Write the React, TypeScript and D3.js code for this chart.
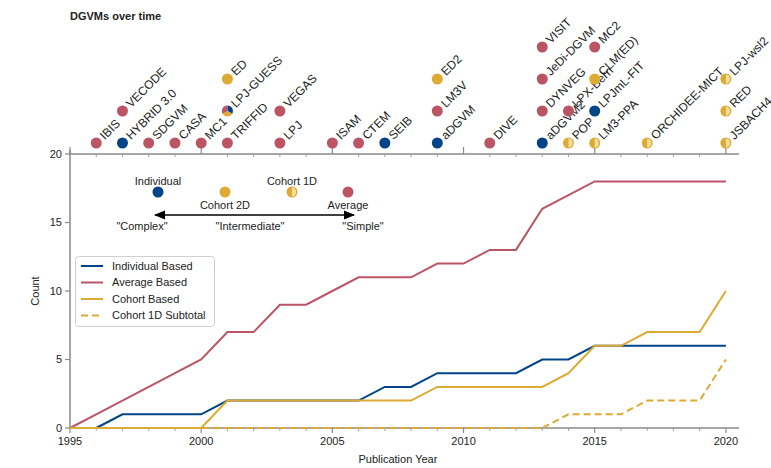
import React from "react";
import * as d3 from "d3";

const years = [1995,1996,1997,1998,1999,2000,2001,2002,2003,2004,2005,2006,2007,2008,2009,2010,2011,2012,2013,2014,2015,2016,2017,2018,2019,2020];
const individualCounts = [NaN,0,1,1,1,1,2,2,2,2,2,2,3,3,4,4,4,4,5,5,6,6,6,6,6,6];
const averageCounts = [0,1,2,3,4,5,7,7,9,9,10,11,11,11,12,12,13,13,16,17,18,18,18,18,18,18];
const cohortCounts = [0,0,0,0,0,0,2,2,2,2,2,2,2,2,3,3,3,3,3,4,6,6,7,7,7,10];
const cohort1DCounts = [0,0,0,0,0,0,0,0,0,0,0,0,0,0,0,0,0,0,0,1,1,1,2,2,2,5];

const yTicks = [0, 5, 10, 15, 20];
const xMajorTicks = [1995, 2000, 2005, 2010, 2015, 2020];

// timeline models: name, year, type (stack order within a year follows array order)
const modelNames = ["IBIS","HYBRID 3.0","VECODE","SDGVM","CASA","MC1","TRIFFID","LPJ-GUESS","ED","LPJ","VEGAS","ISAM","CTEM","SEIB","aDGVM","LM3V","ED2","DIVE","aDGVM2","DYNVEG","JeDi-DGVM","VISIT","POP","LPX-Bern","LM3-PPA","LPJmL-FIT","CLM(ED)","MC2","ORCHIDEE-MICT","JSBACH4","RED","LPJ-wsl2"];
const modelYears = [1996,1997,1997,1998,1999,2000,2001,2001,2001,2003,2003,2005,2006,2007,2009,2009,2009,2011,2013,2013,2013,2013,2014,2014,2015,2015,2015,2015,2017,2020,2020,2020];
const modelTypes = ["avg","ind","avg","avg","avg","avg","avg","mix","c2d","avg","avg","avg","avg","ind","ind","avg","c2d","avg","ind","avg","avg","avg","c1d","avg","c1d","ind","c2d","avg","c1d","c1d","c1d","c1d"];

const seriesNames = ["Individual Based", "Average Based", "Cohort Based", "Cohort 1D Subtotal"];
const classLabels = ["Individual", "Cohort 2D", "Cohort 1D", "Average"];
const classTypes = ["ind", "c2d", "c1d", "avg"];
const scaleLabels = ['"Complex"', '"Intermediate"', '"Simple"'];

const BLUE = "#004488";
const RED = "#BB5566";
const YELLOW = "#DDAA33";
const YELLOW_LIGHT = "#F4DE9C";
const SPINE = "#8a8a8a";
const TEXT = "#222";
const FONT = "'Liberation Sans', Arial, sans-serif";

const W = 771, H = 468;
const left = 70, bottom = 428;
const x = d3.scaleLinear().domain([1995, 2020.5]).range([left, 739]);
const y = d3.scaleLinear().domain([0, 20]).range([bottom, 154]);
const axisTop = y(20);
const R = 5.5;
const rowGap = 32;

function Marker({ type, cx, cy }: { type: string; cx: number; cy: number }) {
  if (type === "ind") return <circle cx={cx} cy={cy} r={R} fill={BLUE} />;
  if (type === "avg") return <circle cx={cx} cy={cy} r={R} fill={RED} />;
  if (type === "c2d") return <circle cx={cx} cy={cy} r={R} fill={YELLOW} />;
  if (type === "c1d") {
    const half = d3.arc()({ innerRadius: 0, outerRadius: R - 0.3, startAngle: 0, endAngle: Math.PI } as any) as string;
    return (
      <g transform={`translate(${cx},${cy})`}>
        <circle r={R} fill={YELLOW} />
        <path d={half} fill={YELLOW_LIGHT} transform="scale(0.8,0.85)" />
      </g>
    );
  }
  const a = d3.arc();
  const parts = [
    { c: BLUE, s: 0, e: (2 * Math.PI) / 3 },
    { c: YELLOW, s: (2 * Math.PI) / 3, e: (4 * Math.PI) / 3 },
    { c: RED, s: (4 * Math.PI) / 3, e: 2 * Math.PI },
  ];
  return (
    <g transform={`translate(${cx},${cy})`}>
      {parts.map((p, i) => (
        <path key={i} d={a({ innerRadius: 0, outerRadius: R, startAngle: p.s, endAngle: p.e } as any) as string} fill={p.c} />
      ))}
    </g>
  );
}

export default function App() {
  const line = d3
    .line<number>()
    .defined((v) => !isNaN(v))
    .x((_, i) => x(years[i]))
    .y((v) => y(v));

  const seen: Record<number, number> = {};
  const stacks = modelYears.map((yr) => {
    const k = seen[yr] || 0;
    seen[yr] = k + 1;
    return k;
  });

  const series = [
    { vals: individualCounts, color: BLUE, dash: "" },
    { vals: averageCounts, color: RED, dash: "" },
    { vals: cohortCounts, color: YELLOW, dash: "" },
    { vals: cohort1DCounts, color: YELLOW, dash: "7,4" },
  ];

  const insetX = [158, 225, 292, 348];
  const insetDotY = 192;
  const arrowY = 215;
  const scaleX = [142, 250, 363];

  return (
    <svg width={W} height={H} style={{ position: "absolute", left: 0, top: 0, fontFamily: FONT }}>
      <rect width={W} height={H} fill="#fff" />
      <text x={70} y={20} fontSize={11} fontWeight="bold" fill={TEXT}>DGVMs over time</text>

      {/* timeline axis */}
      <line x1={left} x2={739} y1={axisTop} y2={axisTop} stroke={SPINE} strokeWidth={1.5} />
      {years.map((yr) =>
        xMajorTicks.includes(yr) ? (
          <line key={yr} x1={x(yr)} x2={x(yr)} y1={axisTop} y2={axisTop - 7} stroke={SPINE} strokeWidth={1.2} />
        ) : (
          <line key={yr} x1={x(yr)} x2={x(yr)} y1={axisTop} y2={axisTop + 3} stroke={SPINE} strokeWidth={0.8} />
        )
      )}
      {modelNames.map((name, i) => {
        const cx = x(modelYears[i]);
        const cy = axisTop - 11 - stacks[i] * rowGap;
        return (
          <g key={name}>
            <Marker type={modelTypes[i]} cx={cx} cy={cy} />
            <text transform={`translate(${cx},${cy}) rotate(-45)`} x={8} dy="0.35em" fontSize={12} fill={TEXT}>{name}</text>
          </g>
        );
      })}

      {/* main axes */}
      <line x1={left} x2={left} y1={bottom} y2={150} stroke={SPINE} strokeWidth={1.5} />
      <line x1={left} x2={739} y1={bottom} y2={bottom} stroke={SPINE} strokeWidth={1.5} />
      {yTicks.map((t) => (
        <g key={t}>
          <line x1={left - 5} x2={left} y1={y(t)} y2={y(t)} stroke={SPINE} strokeWidth={1.2} />
          <text x={left - 8} y={y(t)} dy="0.35em" textAnchor="end" fontSize={11} fill={TEXT}>{t}</text>
        </g>
      ))}
      {years.map((yr) => (
        <line key={yr} x1={x(yr)} x2={x(yr)} y1={bottom} y2={bottom + (xMajorTicks.includes(yr) ? 5 : 3)} stroke={SPINE} strokeWidth={xMajorTicks.includes(yr) ? 1.2 : 0.8} />
      ))}
      {xMajorTicks.map((t) => (
        <text key={t} x={x(t)} y={bottom + 17} textAnchor="middle" fontSize={11} fill={TEXT}>{t}</text>
      ))}
      <text x={(x(1995) + x(2020)) / 2} y={463} textAnchor="middle" fontSize={11} fill={TEXT}>Publication Year</text>
      <text transform={`translate(39,${(y(0) + y(20)) / 2}) rotate(-90)`} textAnchor="middle" fontSize={11} fill={TEXT}>Count</text>

      {/* series */}
      {series.map((s, i) => (
        <path key={i} d={line(s.vals) as string} fill="none" stroke={s.color} strokeWidth={2} strokeDasharray={s.dash || undefined} />
      ))}

      {/* inset classification */}
      {classTypes.map((t, i) => (
        <g key={t}>
          <Marker type={t} cx={insetX[i]} cy={insetDotY} />
          <text x={insetX[i]} y={i % 2 === 0 ? insetDotY - 7 : insetDotY + 17} textAnchor="middle" fontSize={11} fill={TEXT}>{classLabels[i]}</text>
        </g>
      ))}
      <defs>
        <marker id="ah" viewBox="0 0 10 10" refX="9" refY="5" markerWidth="7" markerHeight="7" orient="auto-start-reverse">
          <path d="M0,1 L10,5 L0,9 z" fill="#000" />
        </marker>
      </defs>
      <line x1={155} x2={354} y1={arrowY} y2={arrowY} stroke="#000" strokeWidth={1.6} markerStart="url(#ah)" markerEnd="url(#ah)" />
      {scaleLabels.map((l, i) => (
        <text key={l} x={scaleX[i]} y={230} textAnchor="middle" fontSize={11} fill={TEXT}>{l}</text>
      ))}

      {/* line legend */}
      <rect x={75.5} y={256.5} width={139} height={70} rx={3} fill="#fff" fillOpacity={0.85} stroke="#d0d0d0" />
      {seriesNames.map((n, i) => (
        <g key={n}>
          <line x1={81} x2={103} y1={266 + i * 16.5} y2={266 + i * 16.5} stroke={series[i].color} strokeWidth={2} strokeDasharray={series[i].dash || undefined} />
          <text x={112} y={266 + i * 16.5} dy="0.35em" fontSize={11} fill={TEXT}>{n}</text>
        </g>
      ))}
    </svg>
  );
}
